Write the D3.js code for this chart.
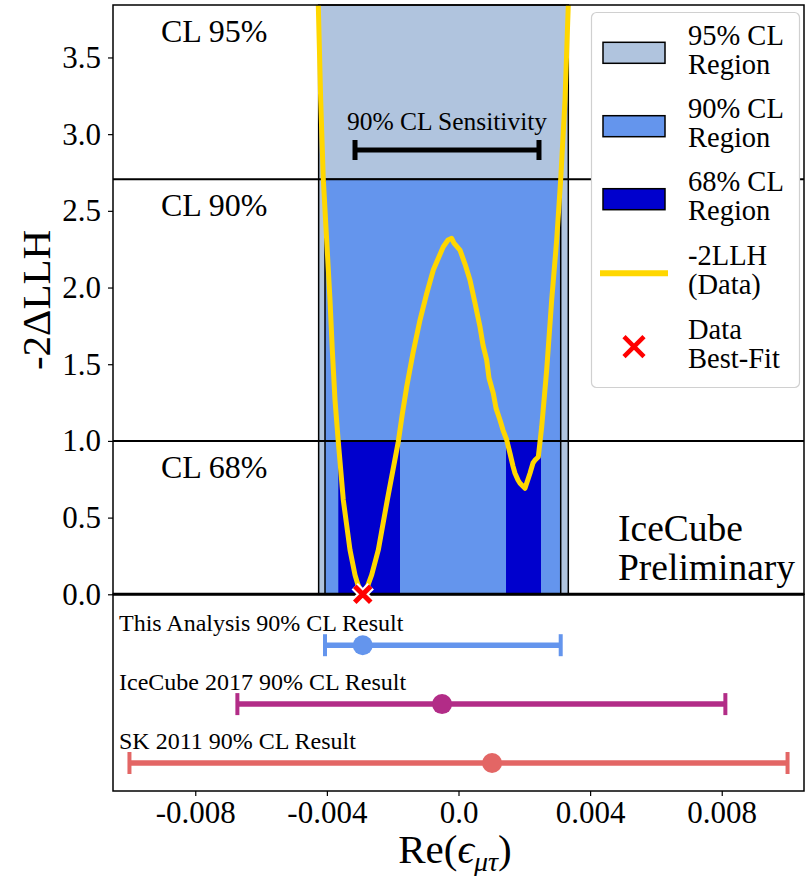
<!DOCTYPE html>
<html><head><meta charset="utf-8">
<script src="https://cdn.jsdelivr.net/npm/d3@7"></script>
<style>
body{margin:0;background:#fff}
text{font-family:"Liberation Serif","Times New Roman",serif;fill:#000}
</style>
</head><body>
<svg id="chart" width="806" height="876"></svg>
<script>
// -2ΔLLH profile scan over Re(ε_μτ)
const scanX = [-0.004285,-0.004261,-0.004188,-0.004109,-0.003905,-0.003835,-0.003753,-0.003653,-0.003501,-0.003297,-0.003145,-0.003054,-0.002911,
  -0.00275,-0.002638,-0.002437,-0.002164,-0.00183,-0.001708,-0.001574,-0.001383,-0.00117,-0.000979,-0.000766,-0.000623,-0.000462,-0.000319,-0.000207,-0.000137,0.0000456,
  0.000198,0.000349,0.000501,0.000653,0.000745,0.000857,0.000927,0.001058,0.00114,0.001261,0.001352,0.001465,0.001565,0.001656,0.001717,
  0.001808,0.001869,0.002021,0.002173,0.002264,0.002325,0.002425,0.002529,0.00268,0.002832,0.002984,0.003106,0.003237,0.003337,0.003358];
const scanY = [4.005,3.842,3.222,2.707,1.918,1.592,1.266,0.995,0.615,0.289,0.126,0.061,0.0,
  0.061,0.126,0.289,0.615,0.995,1.175,1.353,1.573,1.788,1.951,2.114,2.186,2.266,2.31,2.321,2.29,2.244,
  2.153,2.049,1.899,1.744,1.625,1.527,1.41,1.31,1.214,1.136,1.071,1.006,0.919,0.836,0.789,
  0.745,0.724,0.691,0.789,0.856,0.875,0.895,1.093,1.462,1.918,2.31,2.707,3.222,3.842,4.005];

// confidence regions
const band95 = [-0.00425, 0.003337];
const band90 = [-0.004057, 0.003106];
const band68 = [[-0.003653, -0.001778], [0.001444, 0.002507]];
const clLevels = [3.842, 2.706, 1.0];
const clLabels = ["CL 95%", "CL 90%", "CL 68%"];
const bestFit = [-0.00291, 0.0];
const sensitivity = [-0.003145, 0.002446];

// 90% CL results compared in the lower panel
const resultNames = ["This Analysis 90% CL Result", "IceCube 2017 90% CL Result", "SK 2011 90% CL Result"];
const resultLo = [-0.004057, -0.00672, -0.0100];
const resultHi = [0.003106, 0.00811, 0.0100];
const resultCentral = [-0.00291, -0.0005, 0.00102];
const resultColors = ["#6495ED", "#B22C87", "#E36665"];

const yTicks = [0.0, 0.5, 1.0, 1.5, 2.0, 2.5, 3.0, 3.5];
const xTicks = [-0.008, -0.004, 0.0, 0.004, 0.008];
const xTickLabels = ["-0.008", "-0.004", "0.0", "0.004", "0.008"];

const legendLabels = [["95% CL", "Region"], ["90% CL", "Region"], ["68% CL", "Region"], ["-2LLH", "(Data)"], ["Data", "Best-Fit"]];

const C95 = "#B0C4DE", C90 = "#6495ED", C68 = "#0000CD", CURVE = "#FFD700";

const svg = d3.select("#chart");
const L = 113, R = 804, T = 5, B = 594.3, B2 = 791;

const x = d3.scaleLinear().domain([-0.0105, 0.0105]).range([L, R]);
const y = d3.scaleLinear().domain([0, 3.842]).range([B, T]);
// lower panel rows
const yr = d3.scaleLinear().domain([-0.864, 2.475]).range([B, B2]);

svg.append("defs").append("clipPath").attr("id", "main-clip")
  .append("rect").attr("x", L).attr("y", T).attr("width", R - L).attr("height", B - T);

const main = svg.append("g");

// confidence bands
main.append("rect").attr("x", x(band95[0])).attr("width", x(band95[1]) - x(band95[0]))
  .attr("y", y(clLevels[0])).attr("height", y(0) - y(clLevels[0]))
  .attr("fill", C95).attr("stroke", "#000").attr("stroke-width", 1.5);
main.append("rect").attr("x", x(band90[0])).attr("width", x(band90[1]) - x(band90[0]))
  .attr("y", y(clLevels[1])).attr("height", y(0) - y(clLevels[1]))
  .attr("fill", C90).attr("stroke", "#000").attr("stroke-width", 1.5);
main.selectAll(".b68").data(band68).join("rect")
  .attr("x", d => x(d[0])).attr("width", d => x(d[1]) - x(d[0]))
  .attr("y", y(clLevels[2])).attr("height", y(0) - y(clLevels[2]))
  .attr("fill", C68);

// CL threshold lines
main.selectAll(".cl").data(clLevels.slice(1)).join("line")
  .attr("x1", L).attr("x2", R).attr("y1", d => y(d)).attr("y2", d => y(d))
  .attr("stroke", "#000").attr("stroke-width", 2);

// CL labels
main.selectAll(".cll").data(clLabels).join("text")
  .attr("x", 161).attr("y", (d, i) => y(clLevels[i]) + 37)
  .attr("font-size", 32).text(d => d);

// sensitivity bar
const sy = 150;
const sens = main.append("g").attr("stroke", "#000").attr("stroke-width", 5);
sens.append("line").attr("x1", x(sensitivity[0])).attr("x2", x(sensitivity[1])).attr("y1", sy).attr("y2", sy);
sensitivity.forEach(v => sens.append("line").attr("x1", x(v)).attr("x2", x(v)).attr("y1", sy - 10).attr("y2", sy + 10));
main.append("text").attr("x", (x(sensitivity[0]) + x(sensitivity[1])) / 2).attr("y", 130)
  .attr("text-anchor", "middle").attr("font-size", 25.5).text("90% CL Sensitivity");

// IceCube Preliminary
main.append("text").attr("x", 618).attr("y", 541).attr("font-size", 37.5).text("IceCube");
main.append("text").attr("x", 618).attr("y", 580).attr("font-size", 37.5).text("Preliminary");

// likelihood curve
const pts = scanX.map((v, i) => [v, scanY[i]]);
main.append("path").datum(pts)
  .attr("clip-path", "url(#main-clip)")
  .attr("d", d3.line().x(d => x(d[0])).y(d => y(d[1])).curve(d3.curveLinear))
  .attr("fill", "none").attr("stroke", CURVE).attr("stroke-width", 5)
  .attr("stroke-linejoin", "round").attr("stroke-linecap", "round");

// main frame
main.append("rect").attr("x", L).attr("y", T).attr("width", R - L).attr("height", B - T)
  .attr("fill", "none").attr("stroke", "#000").attr("stroke-width", 1.5);

// y axis
const yAxis = svg.append("g").attr("transform", `translate(${L},0)`)
  .call(d3.axisLeft(y).tickValues(yTicks).tickFormat(d3.format(".1f")).tickSize(5).tickPadding(7));
yAxis.select(".domain").remove();
yAxis.selectAll("line").attr("stroke-width", 1.2);
yAxis.selectAll("text").attr("font-size", 31).attr("font-family", '"Liberation Serif",serif');

svg.append("text").attr("transform", "translate(50,300) rotate(-90)")
  .attr("text-anchor", "middle").attr("font-size", 41).text("-2ΔLLH");

// legend
const lg = svg.append("g");
lg.append("rect").attr("x", 591.5).attr("y", 12.5).attr("width", 208).attr("height", 375)
  .attr("rx", 5).attr("fill", "#fff").attr("stroke", "#d0d0d0").attr("stroke-width", 1.2);
const rowY = [52.8, 126.2, 199.2, 273.3, 346.7];
[C95, C90, C68].forEach((c, i) => lg.append("rect").attr("x", 603).attr("y", rowY[i] - 10.5)
  .attr("width", 62).attr("height", 21).attr("fill", c).attr("stroke", "#000").attr("stroke-width", 1.5));
lg.append("line").attr("x1", 600).attr("x2", 668).attr("y1", rowY[3]).attr("y2", rowY[3])
  .attr("stroke", CURVE).attr("stroke-width", 6);
lg.append("path").attr("transform", `translate(634,${rowY[4]})`).attr("d", "M-10,-10L10,10M-10,10L10,-10")
  .attr("stroke", "#FF0000").attr("stroke-width", 4.5).attr("fill", "none");
legendLabels.forEach((ls, i) => {
  lg.append("text").attr("x", 688).attr("y", rowY[i] - 8).attr("font-size", 28.5).text(ls[0]);
  lg.append("text").attr("x", 688).attr("y", rowY[i] + 21).attr("font-size", 28.5).text(ls[1]);
});

// lower panel
const low = svg.append("g");
low.append("rect").attr("x", L).attr("y", B).attr("width", R - L).attr("height", B2 - B)
  .attr("fill", "none").attr("stroke", "#000").attr("stroke-width", 1.5);
resultNames.forEach((n, i) => {
  const g = low.append("g").attr("stroke", resultColors[i]).attr("stroke-width", 5.5);
  const yy = yr(i);
  g.append("line").attr("x1", x(resultLo[i])).attr("x2", x(resultHi[i])).attr("y1", yy).attr("y2", yy);
  [resultLo[i], resultHi[i]].forEach(v => g.append("line").attr("x1", x(v)).attr("x2", x(v))
    .attr("y1", yy - 11).attr("y2", yy + 11).attr("stroke-width", 4));
  low.append("circle").attr("cx", x(resultCentral[i])).attr("cy", yy).attr("r", 10).attr("fill", resultColors[i]);
  low.append("text").attr("x", 119).attr("y", yy - 14).attr("font-size", 24).text(n);
});

// x axis
const xAxis = svg.append("g").attr("transform", `translate(0,${B2})`)
  .call(d3.axisBottom(x).tickValues(xTicks).tickFormat((d, i) => xTickLabels[i]).tickSize(5).tickPadding(5));
xAxis.select(".domain").remove();
xAxis.selectAll("line").attr("stroke-width", 1.2);
xAxis.selectAll("text").attr("font-size", 31).attr("font-family", '"Liberation Serif",serif');

const xl = svg.append("text").attr("x", 455).attr("y", 863).attr("text-anchor", "middle").attr("font-size", 41);
xl.append("tspan").text("Re(");
xl.append("tspan").attr("font-style", "italic").text("ϵ");
xl.append("tspan").attr("font-style", "italic").attr("font-size", 28).attr("dy", 8).text("μτ");
xl.append("tspan").attr("dy", -8).text(")");

// thick zero line separating the panels
svg.append("line").attr("x1", L).attr("x2", R).attr("y1", B).attr("y2", B).attr("stroke", "#000").attr("stroke-width", 3);

// best-fit marker
const bf = svg.append("g").attr("transform", `translate(${x(bestFit[0])},${y(bestFit[1])})`);
bf.append("path").attr("d", "M-8,-8L8,8M-8,8L8,-8").attr("stroke", "#fff").attr("stroke-width", 9).attr("fill", "none");
bf.append("path").attr("d", "M-8,-8L8,8M-8,8L8,-8").attr("stroke", "#FF0000").attr("stroke-width", 5).attr("fill", "none");
</script>
</body></html>
